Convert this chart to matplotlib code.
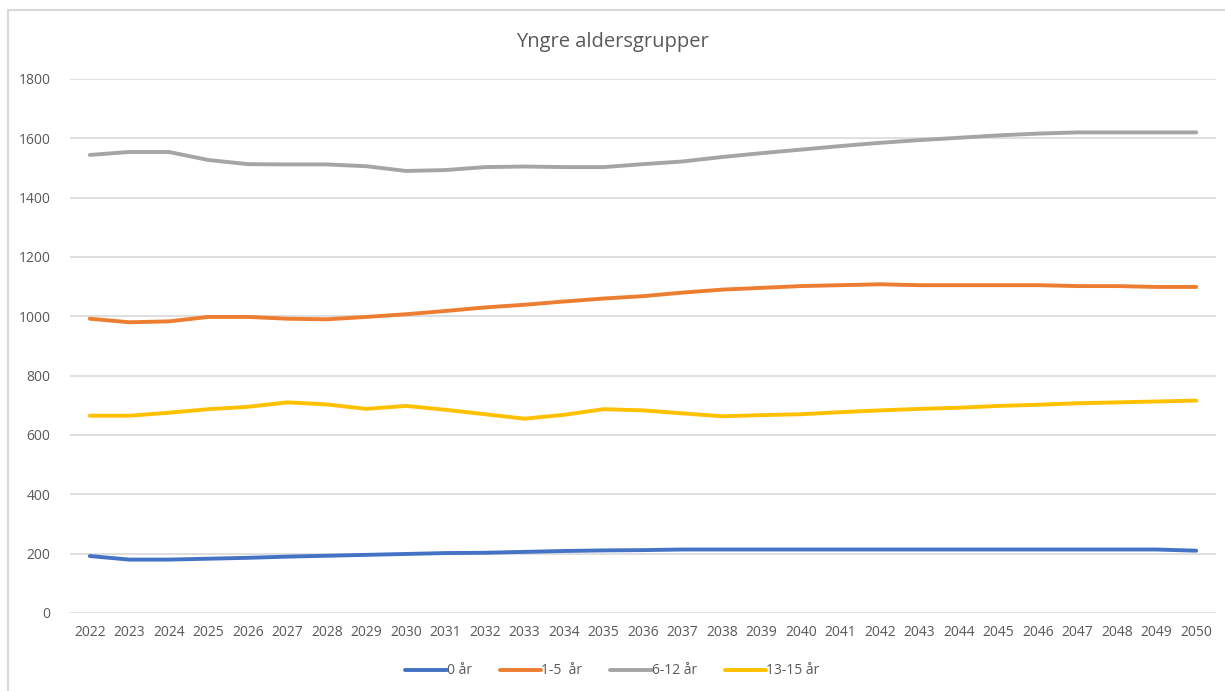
import matplotlib
matplotlib.use("Agg")
import matplotlib.pyplot as plt
from matplotlib.lines import Line2D

years = list(range(2022, 2051))
series_names = ["0 år", "1-5  år", "6-12 år", "13-15 år"]
colors = ["#4472C4", "#ED7D31", "#A5A5A5", "#FFC000"]

age_0 = [192, 180, 180, 183, 186, 190, 193, 196, 199, 202, 203, 206, 209, 211, 212,
         214, 214, 214, 214, 214, 214, 214, 214, 214, 214, 214, 214, 214, 210]
age_1_5 = [992, 980, 983, 998, 998, 992, 990, 998, 1007, 1018, 1030, 1039, 1050, 1060, 1068,
           1080, 1090, 1096, 1102, 1105, 1108, 1105, 1105, 1105, 1105, 1102, 1102, 1099, 1099]
age_6_12 = [1544, 1554, 1554, 1527, 1513, 1512, 1512, 1506, 1490, 1493, 1503, 1505, 1503, 1503, 1513,
            1522, 1537, 1550, 1562, 1574, 1585, 1594, 1602, 1610, 1616, 1620, 1620, 1620, 1620]
age_13_15 = [665, 665, 675, 687, 695, 710, 703, 688, 698, 685, 670, 655, 668, 687, 683,
             673, 663, 667, 670, 677, 683, 688, 692, 698, 702, 707, 710, 713, 716]

yticks = [0, 200, 400, 600, 800, 1000, 1200, 1400, 1600, 1800]

plt.rcParams['font.family'] = ['Open Sans', 'DejaVu Sans']

fig = plt.figure(figsize=(12.25, 6.91), dpi=100)
fig.patch.set_facecolor("white")

# chart border
fig.add_artist(Line2D([8/1225, 8/1225], [0, 1-10/691], color="#D9D9D9", lw=1.5, transform=fig.transFigure))
fig.add_artist(Line2D([8/1225, 1], [1-10/691, 1-10/691], color="#D9D9D9", lw=1.5, transform=fig.transFigure))

ax = fig.add_axes([70/1225, 1-613/691, (1216-70)/1225, (613-79)/691])
data = [age_0, age_1_5, age_6_12, age_13_15]
for name, vals, c in zip(series_names, data, colors):
    ax.plot(years, vals, color=c, lw=2.8, label=name, solid_capstyle="round", solid_joinstyle="round")

ax.set_xlim(2021.5, 2050.5)
ax.set_ylim(0, 1800)
ax.set_yticks(yticks)
ax.set_xticks(years)
ax.set_xticklabels([str(y) for y in years])
ax.grid(axis="y", color="#D9D9D9", lw=1.2)
ax.set_axisbelow(True)
for s in ax.spines.values():
    s.set_visible(False)
ax.tick_params(axis="both", length=0, labelsize=10, labelcolor="#595959")
ax.tick_params(axis="y", pad=14)
ax.tick_params(axis="x", pad=9)

fig.text(0.5, 1-42/691, "Yngre aldersgrupper", ha="center", va="center", fontsize=14.5, color="#595959")

leg = fig.legend(loc="center", bbox_to_anchor=(0.5, 1-671/691), ncol=4, frameon=False,
                 fontsize=10, handlelength=3.0, handletextpad=0.0, columnspacing=2.0)
for t in leg.get_texts():
    t.set_color("#595959")

fig.savefig("out.png", dpi=100, facecolor="white")
